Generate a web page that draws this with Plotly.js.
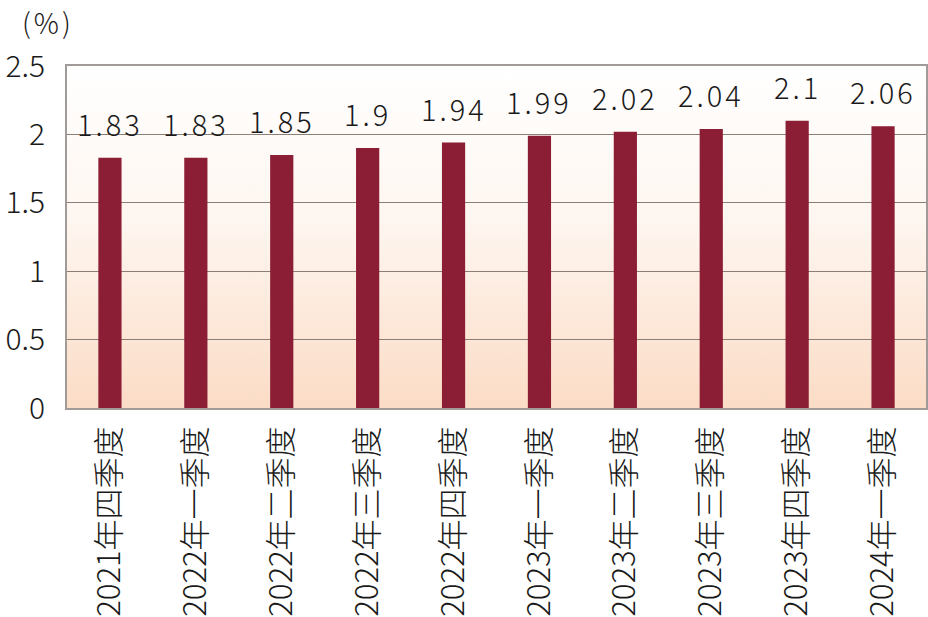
<!DOCTYPE html>
<html>
<head>
<meta charset="utf-8">
<script src="https://cdn.plot.ly/plotly-3.0.1.min.js"></script>
<style>
  body { margin: 0; background: #fff; }
  #chart { width: 928px; height: 617px; }
  .annotation-text { letter-spacing: 3px; }
</style>
</head>
<body>
<div id="chart"></div>
<script>
const quarters = ['2021年四季度', '2022年一季度', '2022年二季度', '2022年三季度', '2022年四季度',
                  '2023年一季度', '2023年二季度', '2023年三季度', '2023年四季度', '2024年一季度'];
const rates = [1.83, 1.83, 1.85, 1.9, 1.94, 1.99, 2.02, 2.04, 2.1, 2.06];
const yTicks = [0, 0.5, 1, 1.5, 2, 2.5];
const yTickLabels = ['0', '0.5', '1', '1.5', '2', '2.5'];

const fontFamily = '"Noto Sans CJK SC", "Noto Sans", sans-serif';

// soft white-to-peach wash behind the plot area
const gradient = 'data:image/svg+xml;utf8,' + encodeURIComponent(
  '<svg xmlns="http://www.w3.org/2000/svg" width="10" height="100" preserveAspectRatio="none">' +
  '<defs><linearGradient id="g" x1="0" y1="0" x2="0" y2="1">' +
  '<stop offset="0" stop-color="#ffffff"/><stop offset="0.45" stop-color="#fef6f0"/>' +
  '<stop offset="1" stop-color="#fbdcc6"/></linearGradient></defs>' +
  '<rect width="10" height="100" fill="url(#g)"/></svg>');

const barTrace = {
  type: 'bar',
  x: quarters,
  y: rates,
  width: 0.27,
  marker: { color: '#8b1d35' },
  hoverinfo: 'x+y',
};

const valueLabels = quarters.map((q, i) => ({
  x: q,
  y: rates[i],
  xref: 'x',
  yref: 'y',
  text: String(rates[i]),
  showarrow: false,
  yanchor: 'bottom',
  yshift: 12,
  font: { family: fontFamily, size: 29, color: '#1a1a1a', weight: 300 },
}));

const layout = {
  width: 928,
  height: 617,
  margin: { l: 67, r: 2, t: 66, b: 209 },
  paper_bgcolor: '#ffffff',
  plot_bgcolor: 'rgba(0,0,0,0)',
  showlegend: false,
  bargap: 0.73,
  xaxis: {
    type: 'category',
    tickangle: -90,
    tickfont: { family: fontFamily, size: 31, color: '#1a1a1a', weight: 300 },
    ticks: '',
    ticklabelstandoff: 4,
    showline: true,
    linecolor: '#a09a98',
    linewidth: 2,
    mirror: true,
    showgrid: false,
  },
  yaxis: {
    range: [0, 2.5],
    tickvals: yTicks,
    ticktext: yTickLabels,
    tickfont: { family: fontFamily, size: 30, color: '#1a1a1a', weight: 300 },
    ticks: '',
    ticklabelstandoff: 14,
    showline: true,
    linecolor: '#a09a98',
    linewidth: 2,
    mirror: true,
    gridcolor: '#8c7d75',
    gridwidth: 1,
    zeroline: false,
  },
  images: [{
    source: gradient,
    xref: 'paper', yref: 'paper',
    x: 0, y: 1, sizex: 1, sizey: 1,
    xanchor: 'left', yanchor: 'top',
    sizing: 'stretch',
    layer: 'below',
  }],
  annotations: valueLabels.concat([{
    xref: 'paper', yref: 'paper',
    x: -0.055, y: 1.0,
    xanchor: 'left', yanchor: 'bottom',
    yshift: 22,
    text: '(%)',
    showarrow: false,
    font: { family: fontFamily, size: 28, color: '#1a1a1a', weight: 300 },
  }]),
};

Plotly.newPlot('chart', [barTrace], layout, { displayModeBar: false, staticPlot: true });
</script>
</body>
</html>
